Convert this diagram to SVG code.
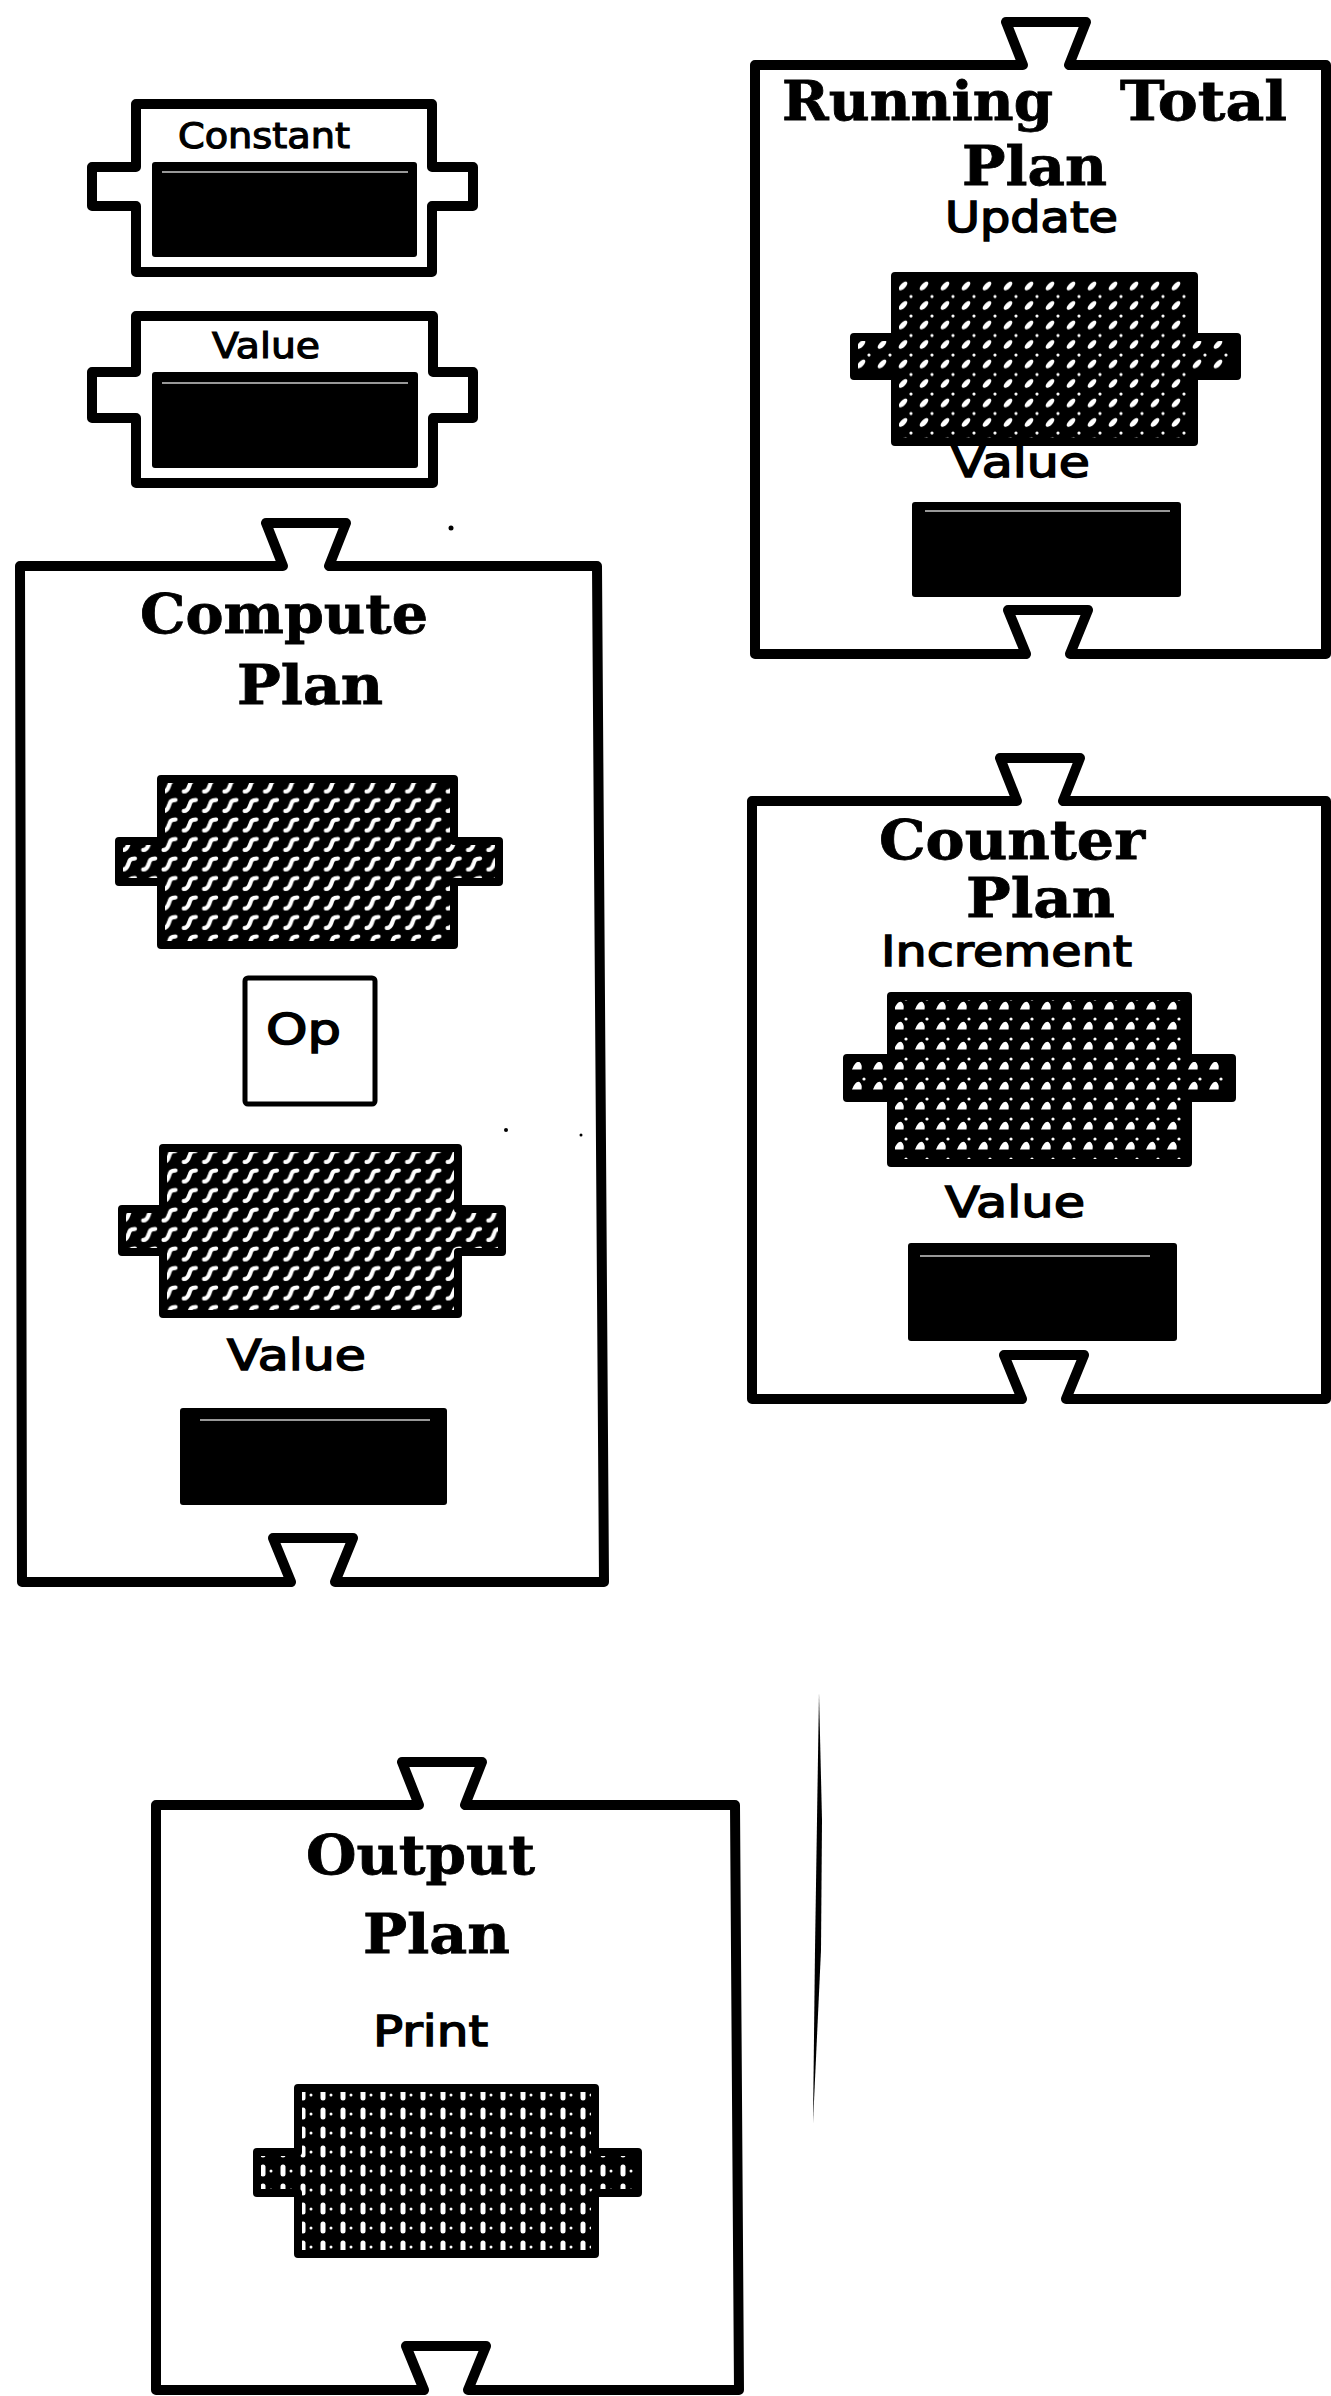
<svg xmlns="http://www.w3.org/2000/svg" width="1331" height="2396" viewBox="0 0 1331 2396">
<style>
.box{fill:#fff;stroke:#000;stroke-width:10;stroke-linejoin:round}
.small{fill:#fff;stroke:#000;stroke-width:10;stroke-linejoin:round}
.title{font-family:"DejaVu Serif","Liberation Serif",serif;font-weight:bold;font-size:54px;fill:#000;stroke:#000;stroke-width:0.8}
.lbl{font-family:"DejaVu Sans","Liberation Sans",sans-serif;font-size:42px;fill:#000;stroke:#000;stroke-width:1.5}
.slbl{font-family:"DejaVu Sans","Liberation Sans",sans-serif;font-size:36px;fill:#000;stroke:#000;stroke-width:1.2}
.conn{stroke:#000;stroke-width:8;stroke-linejoin:round}
.hl{stroke:#fff;stroke-width:1.5;opacity:0.8}
</style>
<defs>
<pattern id="pCompute" patternUnits="userSpaceOnUse" x="160" y="776" width="20.3" height="19.5">
<rect width="20.3" height="19.5" fill="#000"/>
<path d="M3.5,15.5 C7,15.5 8,13 9,10 C10,6 11,4.5 15.5,4.5" fill="none" stroke="#fff" stroke-width="4.2" stroke-linecap="round"/>
</pattern>
<pattern id="pRT" patternUnits="userSpaceOnUse" x="893" y="274" width="21" height="19.5">
<rect width="21" height="19.5" fill="#000"/>
<ellipse cx="10" cy="12" rx="5.6" ry="2.6" transform="rotate(-45 10 12)" fill="#fff"/>
<circle cx="18" cy="3" r="1.6" fill="#fff"/>
</pattern>
<pattern id="pCounter" patternUnits="userSpaceOnUse" x="889" y="994" width="21" height="20">
<rect width="21" height="20" fill="#000"/>
<path d="M5,15.5 Q8.5,6.5 12.5,8 Q15.5,10.5 14.5,15.5 Z" fill="#fff"/>
<circle cx="17" cy="5" r="1.6" fill="#fff"/>
</pattern>
<pattern id="pOutput" patternUnits="userSpaceOnUse" x="296" y="2086" width="20" height="19">
<rect width="20" height="19" fill="#000"/>
<rect x="4.5" y="2.5" width="5" height="12" rx="2.5" fill="#fff"/>
<circle cx="15" cy="9" r="1.5" fill="#fff"/>
</pattern>
</defs>
<rect width="1331" height="2396" fill="#fff"/>

<g id="constant">
<path class="small" d="M136,104 H432 V167 H473 V206 H432 V272 H136 V206 H92 V167 H136 Z"/>
<text class="slbl" x="178" y="148" textLength="172" lengthAdjust="spacingAndGlyphs">Constant</text>
<rect x="152" y="162" width="265" height="95" rx="3" fill="#000"/>
<line class="hl" x1="162" y1="172" x2="408" y2="172"/>
</g>

<g id="value">
<path class="small" d="M136,316 H433 V372 H473 V418 H433 V483 H136 V418 H92 V372 H136 Z"/>
<text class="slbl" x="212" y="358" textLength="108" lengthAdjust="spacingAndGlyphs">Value</text>
<rect x="152" y="372" width="266" height="96" rx="3" fill="#000"/>
<line class="hl" x1="162" y1="383" x2="408" y2="383"/>
</g>

<g id="running-total-plan">
<path class="box" d="M755,65 H1023 L1006,22 H1086 L1069,65 H1326 V654 H1070 L1088,610 H1008 L1026,654 H755 Z"/>
<text class="title"><tspan x="782" y="120" textLength="271" lengthAdjust="spacingAndGlyphs">Running</tspan> <tspan x="1120" y="120" textLength="167" lengthAdjust="spacingAndGlyphs">Total</tspan></text>
<text class="title" x="962" y="185" textLength="145" lengthAdjust="spacingAndGlyphs">Plan</text>
<text class="lbl" x="945" y="232" textLength="173" lengthAdjust="spacingAndGlyphs">Update</text>
<text class="lbl" x="951" y="477" textLength="139" lengthAdjust="spacingAndGlyphs">Value</text>
<path class="conn" fill="url(#pRT)" d="M895,276 H1194 V337 H1237 V376 H1194 V442 H895 V376 H854 V337 H895 Z"/>
<rect x="912" y="502" width="269" height="95" rx="3" fill="#000"/>
<line class="hl" x1="925" y1="511" x2="1170" y2="511"/>
</g>

<g id="compute-plan">
<path class="box" d="M20,566 H283 L266,523 H346 L329,566 H597 L604,1582 H335 L353,1538 H273 L291,1582 H22 Z"/>
<text class="title" x="140" y="633" textLength="288" lengthAdjust="spacingAndGlyphs">Compute</text>
<text class="title" x="237" y="704" textLength="146" lengthAdjust="spacingAndGlyphs">Plan</text>
<path class="conn" fill="url(#pCompute)" d="M161,779 H454 V841 H499 V882 H454 V945 H161 V882 H119 V841 H161 Z"/>
<rect x="245" y="978" width="130" height="126" rx="3" fill="#fff" stroke="#000" stroke-width="5"/>
<text class="lbl" x="266" y="1044" font-size="48" textLength="75" lengthAdjust="spacingAndGlyphs">Op</text>
<path class="conn" fill="url(#pCompute)" d="M163,1148 H458 V1209 H502 V1252 H458 V1314 H163 V1252 H122 V1209 H163 Z"/>
<text class="lbl" x="227" y="1370" textLength="139" lengthAdjust="spacingAndGlyphs">Value</text>
<rect x="180" y="1408" width="267" height="97" rx="3" fill="#000"/>
<line class="hl" x1="200" y1="1420" x2="430" y2="1420"/>
</g>

<g id="counter-plan">
<path class="box" d="M752,801 H1017 L1000,758 H1080 L1063,801 H1326 V1399 H1066 L1084,1355 H1004 L1022,1399 H752 Z"/>
<text class="title" x="879" y="859" textLength="266" lengthAdjust="spacingAndGlyphs">Counter</text>
<text class="title" x="966" y="917" textLength="149" lengthAdjust="spacingAndGlyphs">Plan</text>
<text class="lbl" x="881" y="966" font-size="40" textLength="251" lengthAdjust="spacingAndGlyphs">Increment</text>
<path class="conn" fill="url(#pCounter)" d="M891,996 H1188 V1058 H1232 V1098 H1188 V1163 H891 V1098 H847 V1058 H891 Z"/>
<text class="lbl" x="945" y="1217" textLength="140" lengthAdjust="spacingAndGlyphs">Value</text>
<rect x="908" y="1243" width="269" height="98" rx="3" fill="#000"/>
<line class="hl" x1="920" y1="1256" x2="1150" y2="1256"/>
</g>

<g id="output-plan">
<path class="box" d="M156,1805 H419 L402,1762 H482 L465,1805 H735 L739,2390 H468 L486,2346 H406 L424,2390 H156 Z"/>
<text class="title" x="306" y="1874" textLength="229" lengthAdjust="spacingAndGlyphs">Output</text>
<text class="title" x="363" y="1953" textLength="147" lengthAdjust="spacingAndGlyphs">Plan</text>
<text class="lbl" x="373" y="2046" textLength="115" lengthAdjust="spacingAndGlyphs">Print</text>
<path class="conn" fill="url(#pOutput)" d="M298,2088 H595 V2152 H638 V2193 H595 V2254 H298 V2193 H257 V2152 H298 Z"/>
</g>

<g id="connectors"></g>

<g id="marks">
<path d="M819,1693 L822,1820 L821,1950 L813,2123 L815,1950 L817,1820 Z" fill="#000"/>
<circle cx="451" cy="528" r="2.5" fill="#000"/>
<circle cx="506" cy="1130" r="2" fill="#000"/>
<circle cx="581" cy="1135" r="1.5" fill="#000"/>
</g>
</svg>
